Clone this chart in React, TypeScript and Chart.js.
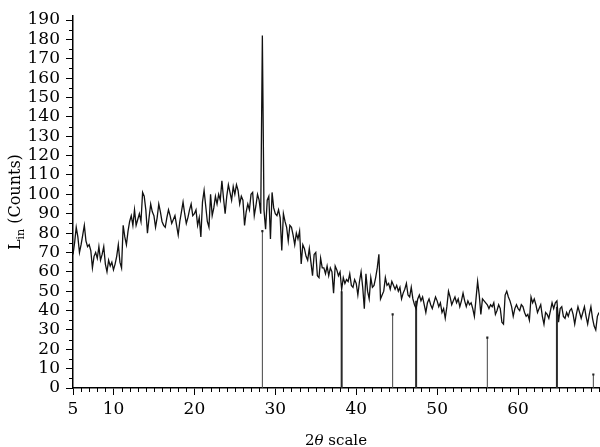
import { useEffect, useRef } from "react";
import { Chart, registerables } from "chart.js";

Chart.register(...registerables);

// 2θ sampling of the measured pattern
const THETA_START = 5;
const THETA_STEP = 0.2;

// Lin (Counts), 5 values per degree (x.0, x.2, x.4, x.6, x.8)
const COUNTS: number[] = [
  69, 75, 83, 78, 70, // 5
  74, 79, 84, 76, 73, // 6
  74, 71, 62, 68, 70, // 7
  67, 73, 66, 69, 73, // 8
  64, 60, 66, 63, 65, // 9
  61, 64, 68, 74, 65, // 10
  62, 84, 78, 74, 81, // 11
  86, 89, 84, 92, 84, // 12
  87, 90, 86, 101, 99, // 13
  92, 80, 88, 95, 91, // 14
  89, 83, 88, 95, 91, // 15
  86, 84, 83, 88, 92, // 16
  89, 85, 87, 89, 84, // 17
  79, 86, 91, 96, 90, // 18
  85, 88, 92, 95, 89, // 19
  90, 92, 84, 88, 78, // 20
  96, 102, 94, 86, 83, // 21
  100, 89, 93, 99, 95, // 22
  100, 97, 107, 98, 90, // 23
  99, 105, 101, 97, 104, // 24
  100, 105, 102, 95, 99, // 25
  97, 84, 91, 95, 92, // 26
  100, 101, 89, 94, 100, // 27
  97, 90, 182, 92, 82, // 28
  97, 99, 77, 101, 93, // 29
  90, 89, 92, 88, 71, // 30
  90, 86, 83, 76, 84, // 31
  83, 79, 74, 80, 77, // 32
  81, 64, 74, 72, 68, // 33
  66, 72, 65, 58, 69, // 34
  70, 58, 57, 67, 62, // 35
  62, 59, 63, 58, 62, // 36
  60, 49, 63, 61, 58, // 37
  60, 51, 57, 54, 56, // 38
  55, 59, 53, 52, 56, // 39
  54, 48, 55, 60, 52, // 40
  41, 59, 50, 46, 57, // 41
  52, 53, 57, 62, 69, // 42
  46, 48, 50, 57, 53, // 43
  54, 51, 55, 53, 51, // 44
  53, 50, 52, 46, 49, // 45
  51, 54, 48, 47, 52, // 46
  46, 43, 41, 46, 48, // 47
  45, 47, 43, 39, 44, // 48
  46, 43, 41, 44, 47, // 49
  45, 42, 44, 39, 41, // 50
  36, 42, 50, 47, 43, // 51
  45, 47, 44, 46, 42, // 52
  45, 49, 45, 42, 45, // 53
  43, 44, 41, 37, 46, // 54
  55, 48, 38, 46, 45, // 55
  44, 43, 41, 43, 42, // 56
  44, 38, 40, 43, 41, // 57
  34, 33, 48, 50, 47, // 58
  45, 42, 37, 41, 43, // 59
  41, 40, 43, 42, 39, // 60
  37, 38, 35, 47, 44, // 61
  46, 43, 39, 41, 43, // 62
  37, 33, 39, 38, 36, // 63
  40, 44, 41, 44, 45, // 64
  34, 41, 42, 37, 36, // 65
  39, 37, 40, 41, 38, // 66
  33, 38, 42, 39, 36, // 67
  39, 42, 37, 33, 38, // 68
  42, 36, 32, 30, 37, // 69
  39, // 70
];

// Reference pattern sticks
const PHASE_A_POS = [28.4, 44.5, 56.2, 69.3];
const PHASE_A_H = [81, 38, 26, 7];
const PHASE_B_POS = [38.2, 47.4, 64.8];
const PHASE_B_H = [50, 45, 42];

// Axes
const X_MIN = 5;
const X_MAX = 70;
const Y_MIN = 0;
const Y_MAX = 192;
const X_TICKS = [5, 10, 20, 30, 40, 50, 60];
const Y_TICKS = [0, 10, 20, 30, 40, 50, 60, 70, 80, 90, 100, 110, 120, 130, 140, 150, 160, 170, 180, 190];
const X_MINOR_STEP = 1;
const Y_MINOR_STEP = 5;

const X_TITLE = ["2", "θ", " scale"];
const Y_TITLE = ["L", "in", " (Counts)"];

const FONT = "'DejaVu Serif', serif";

function sticks(pos: number[], h: number[]) {
  const out: { x: number; y: number | null }[] = [];
  pos.forEach((p, i) => {
    out.push({ x: p, y: 0 }, { x: p, y: h[i] }, { x: p, y: null });
  });
  return out;
}

const decor = {
  id: "decor",
  afterDraw(chart: any) {
    const { ctx, chartArea } = chart;
    const xs = chart.scales.x;
    const ys = chart.scales.y;
    ctx.save();
    ctx.strokeStyle = "#000";
    ctx.lineWidth = 1;
    ctx.beginPath();
    for (let v = X_MIN; v <= X_MAX; v += X_MINOR_STEP) {
      if (X_TICKS.includes(v)) continue;
      const px = Math.round(xs.getPixelForValue(v)) + 0.5;
      ctx.moveTo(px, chartArea.bottom);
      ctx.lineTo(px, chartArea.bottom + 4);
    }
    for (let v = Y_MINOR_STEP; v < 190; v += 10) {
      const py = Math.round(ys.getPixelForValue(v)) + 0.5;
      ctx.moveTo(chartArea.left, py);
      ctx.lineTo(chartArea.left - 4, py);
    }
    ctx.stroke();

    ctx.fillStyle = "#000";
    ctx.textBaseline = "alphabetic";
    // x title
    const xf = `15px ${FONT}`;
    const xfi = `italic 15px ${FONT}`;
    ctx.font = xf;
    const w0 = ctx.measureText(X_TITLE[0]).width;
    const w2 = ctx.measureText(X_TITLE[2]).width;
    ctx.font = xfi;
    const w1 = ctx.measureText(X_TITLE[1]).width;
    const cx = (chartArea.left + chartArea.right) / 2;
    const x0 = cx - (w0 + w1 + w2) / 2;
    const yb = 445;
    ctx.font = xf;
    ctx.fillText(X_TITLE[0], x0, yb);
    ctx.font = xfi;
    ctx.fillText(X_TITLE[1], x0 + w0, yb);
    ctx.font = xf;
    ctx.fillText(X_TITLE[2], x0 + w0 + w1, yb);

    // y title
    const yf = `16px ${FONT}`;
    const ysf = `11px ${FONT}`;
    ctx.font = yf;
    const a = ctx.measureText(Y_TITLE[0]).width;
    const c = ctx.measureText(Y_TITLE[2]).width;
    ctx.font = ysf;
    const b = ctx.measureText(Y_TITLE[1]).width;
    const cy = (chartArea.top + chartArea.bottom) / 2;
    ctx.translate(20, cy);
    ctx.rotate(-Math.PI / 2);
    const s = -(a + b + c) / 2;
    ctx.font = yf;
    ctx.fillText(Y_TITLE[0], s, 0);
    ctx.font = ysf;
    ctx.fillText(Y_TITLE[1], s + a, 4);
    ctx.font = yf;
    ctx.fillText(Y_TITLE[2], s + a + b, 0);
    ctx.restore();
  },
};

export default function App() {
  const ref = useRef<HTMLCanvasElement | null>(null);

  useEffect(() => {
    if (!ref.current) return;
    const curve = COUNTS.map((v, i) => ({ x: THETA_START + i * THETA_STEP, y: v }));
    const chart = new Chart(ref.current, {
      type: "line",
      data: {
        datasets: [
          {
            data: curve,
            borderColor: "#111",
            borderWidth: 1.3,
            pointRadius: 0,
            tension: 0,
          },
          {
            data: sticks(PHASE_A_POS, PHASE_A_H),
            borderColor: "#444",
            borderWidth: 1,
            pointStyle: "rect",
            pointRadius: (c: any) => (c.raw && c.raw.y > 0 ? 1.5 : 0),
            pointBackgroundColor: "#222",
            pointBorderColor: "#222",
            pointBorderWidth: 0,
            spanGaps: false,
          },
          {
            data: sticks(PHASE_B_POS, PHASE_B_H),
            borderColor: "#2a2a2a",
            borderWidth: 2,
            pointRadius: 0,
            spanGaps: false,
          },
        ],
      },
      options: {
        animation: false,
        responsive: true,
        maintainAspectRatio: false,
        layout: { padding: { top: 3, right: 1, left: 0, bottom: 0 } },
        plugins: { legend: { display: false }, tooltip: { enabled: false } },
        scales: {
          x: {
            type: "linear",
            min: X_MIN,
            max: X_MAX,
            afterBuildTicks: (s: any) => {
              s.ticks = X_TICKS.map((v) => ({ value: v }));
            },
            afterFit: (s: any) => {
              s.height = 59;
            },
            grid: { drawOnChartArea: false, drawTicks: true, tickLength: 7, color: "#000", tickColor: "#000" },
            border: { display: true, color: "#000", width: 1.5 },
            ticks: { font: { family: FONT, size: 17 }, color: "#000", padding: 4, maxRotation: 0, autoSkip: false },
          },
          y: {
            type: "linear",
            min: Y_MIN,
            max: Y_MAX,
            afterBuildTicks: (s: any) => {
              s.ticks = Y_TICKS.map((v) => ({ value: v }));
            },
            afterFit: (s: any) => {
              s.width = 73;
            },
            grid: { drawOnChartArea: false, drawTicks: true, tickLength: 7, color: "#000", tickColor: "#000" },
            border: { display: true, color: "#000", width: 1.5 },
            ticks: { font: { family: FONT, size: 17 }, color: "#000", padding: 6, autoSkip: false },
          },
        },
      },
      plugins: [decor],
    });
    return () => chart.destroy();
  }, []);

  return (
    <div style={{ position: "fixed", left: 0, top: 0, width: 600, height: 447, background: "#fff" }}>
      <canvas ref={ref} />
    </div>
  );
}
